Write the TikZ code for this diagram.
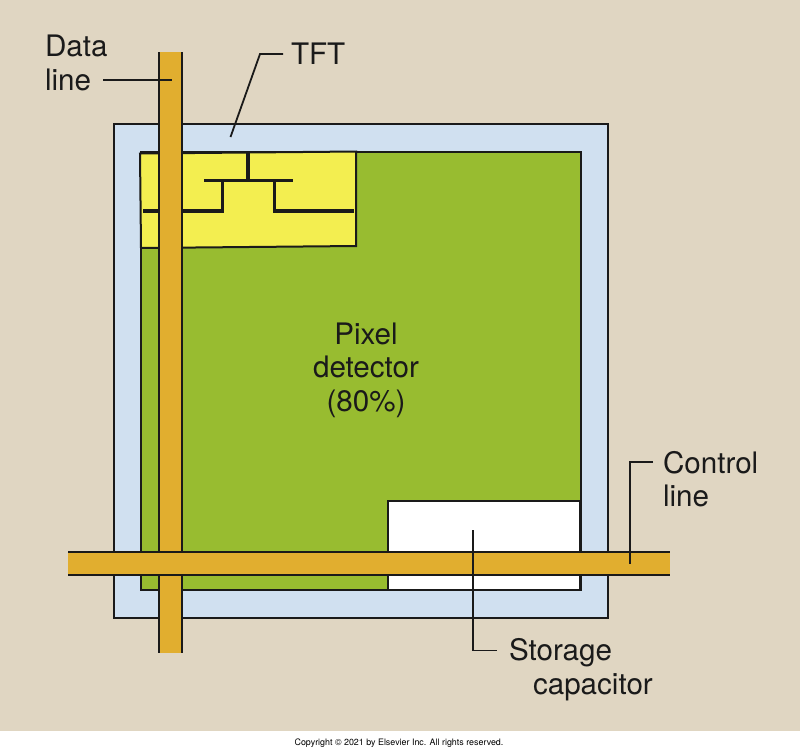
\documentclass[tikz,border=0pt]{standalone}
\usepackage{fontspec}
\setmainfont{TeX Gyre Heros}
\definecolor{bgc}{HTML}{E0D6C2}
\definecolor{panelc}{HTML}{D0E0F0}
\definecolor{greenc}{HTML}{98BC30}
\definecolor{yellowc}{HTML}{F3EE50}
\definecolor{barc}{HTML}{E1AE2F}
\definecolor{inkc}{HTML}{1A1A1A}
\tikzset{
  shape line/.style={draw=inkc,line width=2pt,line join=miter},
  bar/.style={draw=none,fill=barc},
  barline/.style={draw=inkc,line width=2pt},
  leader/.style={draw=inkc,line width=1.8pt,line join=miter},
  circuit/.style={draw=inkc,line width=3.6pt,line cap=butt,line join=miter},
  label/.style={text=inkc,font=\fontsize{29.6}{33.5}\selectfont,inner sep=0pt,outer sep=0pt},
}
\begin{document}
\begin{tikzpicture}[x=1pt,y=-1pt]
\useasboundingbox (0,0) rectangle (800,748);
\fill[white] (0,0) rectangle (800,748);
\fill[bgc] (0,0) rectangle (800,731);
% panels
\draw[shape line,fill=panelc] (113.5,123.5) rectangle (608,618);
\draw[shape line,fill=greenc] (141,152) -- (581,152) -- (581,590) -- (141,590) -- cycle;
\draw[shape line,fill=white] (388,501) rectangle (580,590);
\draw[shape line,fill=yellowc] (140,153.5) -- (356,151.5) -- (356,246) -- (141,248) -- cycle;
% circuit
\draw[circuit] (248,152) -- (248,181);
\draw[circuit] (204,180.5) -- (292.5,180.5);
\draw[circuit] (143,211) -- (222.5,211) -- (222.5,180.5);
\draw[circuit] (354,211) -- (274.5,211) -- (274.5,180.5);
% lines
\fill[bar] (158.5,52) rectangle (181.5,653);
\draw[barline] (158.5,52) -- (158.5,653);
\draw[barline] (181.5,52) -- (181.5,653);
\fill[bar] (68,551.5) rectangle (670,574.5);
\draw[barline] (68,551.5) -- (670,551.5);
\draw[barline] (68,574.5) -- (670,574.5);
% labels
\node[label,align=left,anchor=north west] (data) at (45,35) {Data\\line};
\node[label,anchor=west] (tft) at (291,54) {TFT};
\node[label,align=center] (pixel) at (366,370) {Pixel\\detector\\(80\%)};
\node[label,align=left,anchor=north west] (control) at (663,451) {Control\\line};
\node[label,anchor=west] (storage) at (509,653) {Storage};
\node[label,anchor=west] (capacitor) at (533,687) {capacitor};
\node[text=black,font=\fontsize{8.9}{10}\selectfont,inner sep=0pt] (copy) at (399,743) {Copyright © 2021 by Elsevier Inc. All rights reserved.};
% leaders
\coordinate (dataend) at (172,80);
\coordinate (dataout) at (103,80);
\coordinate (tftout) at (283,54);
\coordinate (tftbend) at (260,54);
\coordinate (tftend) at (230.5,137);
\coordinate (ctlout) at (653,462);
\coordinate (ctlbend) at (630,462);
\coordinate (ctlend) at (630,563.5);
\coordinate (stoend) at (473,530);
\coordinate (stobend) at (473,650.5);
\coordinate (stoout) at (497,650.5);
\draw[leader] (dataout) -- (dataend);
\draw[leader] (tftout) -- (tftbend) -- (tftend);
\draw[leader] (ctlout) -- (ctlbend) -- (ctlend);
\draw[leader] (stoend) -- (stobend) -- (stoout);
\end{tikzpicture}
\end{document}
